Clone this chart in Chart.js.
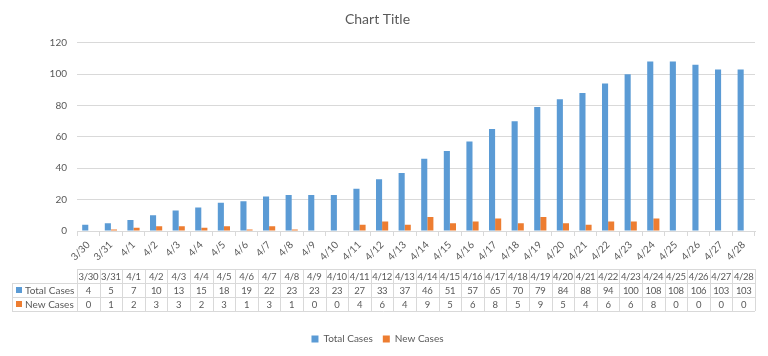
<!DOCTYPE html>
<html>
<head>
<meta charset="utf-8">
<script src="https://cdn.jsdelivr.net/npm/chart.js@4/dist/chart.umd.min.js"></script>
<style>
  html, body { margin: 0; padding: 0; background: #ffffff; }
  #wrap { width: 768px; height: 356px; position: relative; }
</style>
</head>
<body>
<div id="wrap"><canvas id="c" width="768" height="356"></canvas></div>
<script>
const categories = ["3/30","3/31","4/1","4/2","4/3","4/4","4/5","4/6","4/7","4/8","4/9","4/10","4/11","4/12","4/13","4/14","4/15","4/16","4/17","4/18","4/19","4/20","4/21","4/22","4/23","4/24","4/25","4/26","4/27","4/28"];
const totalCases = [4,5,7,10,13,15,18,19,22,23,23,23,27,33,37,46,51,57,65,70,79,84,88,94,100,108,108,106,103,103];
const newCases = [0,1,2,3,3,2,3,1,3,1,0,0,4,6,4,9,5,6,8,5,9,5,4,6,6,8,0,0,0,0];
const seriesNames = ["Total Cases", "New Cases"];
const yTicks = [0, 20, 40, 60, 80, 100, 120];

const BLUE = "#5B9BD5", ORANGE = "#ED7D31", TEXT = "#595959", GRID = "#d9d9d9";
const FONT = "Lato";

const tablePlugin = {
  id: "dataTable",
  afterDraw(chart) {
    const ctx = chart.ctx;
    const area = chart.chartArea;
    const n = categories.length;
    const w = (area.right - area.left) / n;
    const top = 269, rh = 14;
    const headLeft = 12;
    ctx.save();
    ctx.strokeStyle = GRID;
    ctx.lineWidth = 1;
    const hline = (x1, x2, y) => { ctx.beginPath(); ctx.moveTo(x1, y + 0.5); ctx.lineTo(x2, y + 0.5); ctx.stroke(); };
    const vline = (x, y1, y2) => { ctx.beginPath(); ctx.moveTo(Math.round(x) + 0.5, y1); ctx.lineTo(Math.round(x) + 0.5, y2); ctx.stroke(); };
    hline(area.left, area.right, top);
    hline(headLeft, area.right, top + rh);
    hline(headLeft, area.right, top + 2 * rh);
    hline(headLeft, area.right, top + 3 * rh);
    vline(headLeft, top + rh, top + 3 * rh);
    for (let i = 0; i <= n; i++) vline(area.left + i * w, top, top + 3 * rh);
    ctx.fillStyle = TEXT;
    ctx.font = "9.5px " + FONT;
    if ("letterSpacing" in ctx) ctx.letterSpacing = "-0.3px";
    ctx.textAlign = "center";
    ctx.textBaseline = "middle";
    const rows = [totalCases, newCases];
    for (let i = 0; i < n; i++) {
      const cx = area.left + (i + 0.5) * w;
      ctx.fillText(categories[i], cx, top + rh / 2 + 0.5);
      ctx.fillText(String(rows[0][i]), cx, top + rh * 1.5 + 0.5);
      ctx.fillText(String(rows[1][i]), cx, top + rh * 2.5 + 0.5);
    }
    if ("letterSpacing" in ctx) ctx.letterSpacing = "0px";
    ctx.font = "10px " + FONT;
    ctx.textAlign = "left";
    const cols = [BLUE, ORANGE];
    for (let r = 0; r < 2; r++) {
      const cy = top + rh * (r + 1.5);
      ctx.fillStyle = cols[r];
      ctx.fillRect(16, cy - 3, 6, 6);
      ctx.fillStyle = TEXT;
      ctx.fillText(seriesNames[r], 25, cy + 0.5);
    }
    ctx.restore();
  }
};

new Chart(document.getElementById("c"), {
  type: "bar",
  data: {
    labels: categories,
    datasets: [
      { label: seriesNames[0], data: totalCases, backgroundColor: BLUE, borderWidth: 0 },
      { label: seriesNames[1], data: newCases, backgroundColor: ORANGE, borderWidth: 0 }
    ]
  },
  plugins: [tablePlugin],
  options: {
    responsive: false,
    animation: false,
    devicePixelRatio: 1,
    layout: { padding: { left: 0, right: 13, top: 0, bottom: 2 } },
    datasets: { bar: { categoryPercentage: 0.54, barPercentage: 1.0 } },
    plugins: {
      title: {
        display: true,
        text: "Chart Title",
        color: TEXT,
        font: { family: FONT, size: 14, weight: "normal" },
        padding: { top: 11, bottom: 15 }
      },
      legend: {
        display: true,
        position: "bottom",
        labels: {
          color: TEXT,
          font: { family: FONT, size: 10 },
          boxWidth: 7,
          boxHeight: 7,
          padding: 10
        }
      },
      tooltip: { enabled: false }
    },
    scales: {
      x: {
        offset: true,
        grid: { display: true, drawOnChartArea: false, drawTicks: true, tickLength: 5, color: GRID, offset: true },
        border: { display: true, color: GRID },
        ticks: { color: TEXT, font: { family: FONT, size: 10 }, minRotation: 45, maxRotation: 45, autoSkip: false, padding: 3 },
        afterFit(scale) { scale.height = 93; }
      },
      y: {
        min: 0,
        max: 120,
        afterBuildTicks(scale) { scale.ticks = yTicks.map(v => ({ value: v })); },
        grid: { color: GRID, drawTicks: false },
        border: { display: false },
        ticks: { color: TEXT, font: { family: FONT, size: 10 }, padding: 10 },
        afterFit(scale) { scale.width = 77; }
      }
    }
  }
});
</script>
</body>
</html>
